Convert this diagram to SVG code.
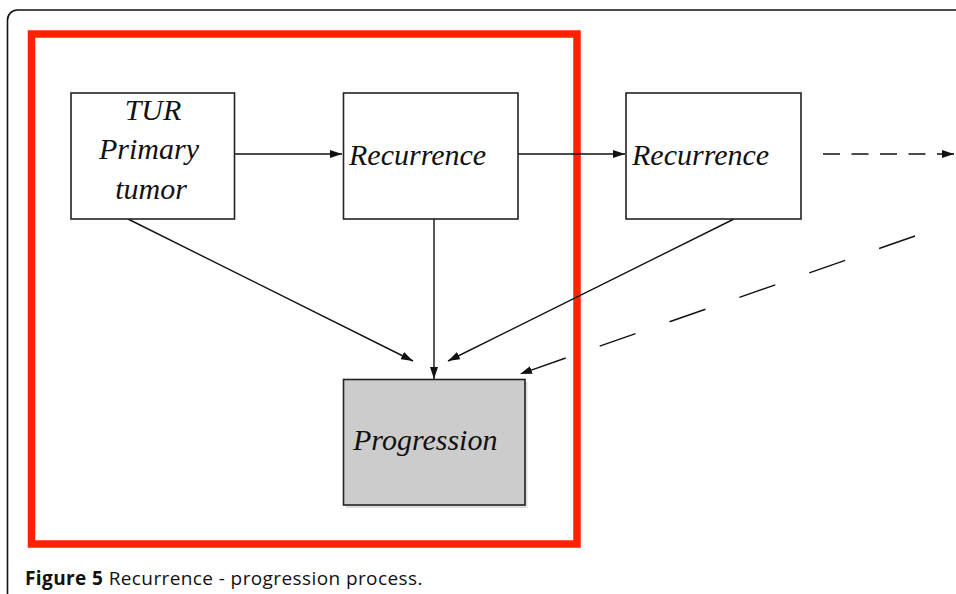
<svg xmlns="http://www.w3.org/2000/svg" width="956" height="594" viewBox="0 0 956 594">
<style>
.box{fill:#ffffff;stroke:#222222;stroke-width:1.6}
.prog{fill:#cccccc;stroke:#222222;stroke-width:1.6}
.lbl{font-family:"Liberation Serif","Times New Roman",serif;font-style:italic;font-size:30px;fill:#111111}
.ln{fill:none;stroke:#111111;stroke-width:1.4}
.dash1{stroke-dasharray:17 11.5}
.dash2{stroke-dasharray:38 36}
.cap{font-family:"Open Sans","Noto Sans",sans-serif;font-size:19px;letter-spacing:0.4px;fill:#111111}
</style>
<defs>
<marker id="ah" viewBox="0 0 12 8" refX="12" refY="4" markerWidth="12" markerHeight="8" markerUnits="userSpaceOnUse" orient="auto">
<path d="M0,0 L12,4 L0,8 Z" fill="#111111"/>
</marker>
</defs>
<rect width="956" height="594" fill="#ffffff"/>
<path d="M7.5,594 L7.5,20 A10,10 0 0 1 17.5,10 L956,10" fill="none" stroke="#111111" stroke-width="1.6"/>
<rect x="31.5" y="34" width="545.5" height="510" fill="none" stroke="#ff2200" stroke-width="7.5"/>
<g id="connectors">
<line class="ln" x1="235" y1="154" x2="342" y2="154" marker-end="url(#ah)"/>
<line class="ln" x1="518" y1="154" x2="625" y2="154" marker-end="url(#ah)"/>
<line class="ln dash1" x1="823" y1="154" x2="954" y2="154" marker-end="url(#ah)"/>
<line class="ln" x1="128" y1="219" x2="413" y2="361" marker-end="url(#ah)"/>
<line class="ln" x1="434" y1="219" x2="434" y2="379" marker-end="url(#ah)"/>
<line class="ln" x1="734" y1="219" x2="448" y2="361" marker-end="url(#ah)"/>
<line class="ln dash2" x1="915" y1="236" x2="520" y2="374" marker-end="url(#ah)"/>
</g>
<g id="node-tur">
<rect class="box" x="71" y="93" width="163.5" height="126"/>
<text class="lbl" x="153" y="120" text-anchor="middle">TUR</text>
<text class="lbl" x="149" y="159" text-anchor="middle">Primary</text>
<text class="lbl" x="151" y="199" text-anchor="middle">tumor</text>
</g>
<g id="node-recurrence1">
<rect class="box" x="343.5" y="93" width="174.5" height="126"/>
<text class="lbl" x="349" y="165">Recurrence</text>
</g>
<g id="node-recurrence2">
<rect class="box" x="626" y="93" width="175" height="126"/>
<text class="lbl" x="632" y="165">Recurrence</text>
</g>
<g id="node-progression">
<rect x="346" y="382" width="181.5" height="126" fill="#dddddd"/>
<rect class="prog" x="343.5" y="379.5" width="181.5" height="125.5"/>
<text class="lbl" x="353" y="450">Progression</text>
</g>
<text class="cap" x="25" y="585"><tspan font-weight="bold">Figure 5</tspan> Recurrence - progression process.</text>
</svg>
